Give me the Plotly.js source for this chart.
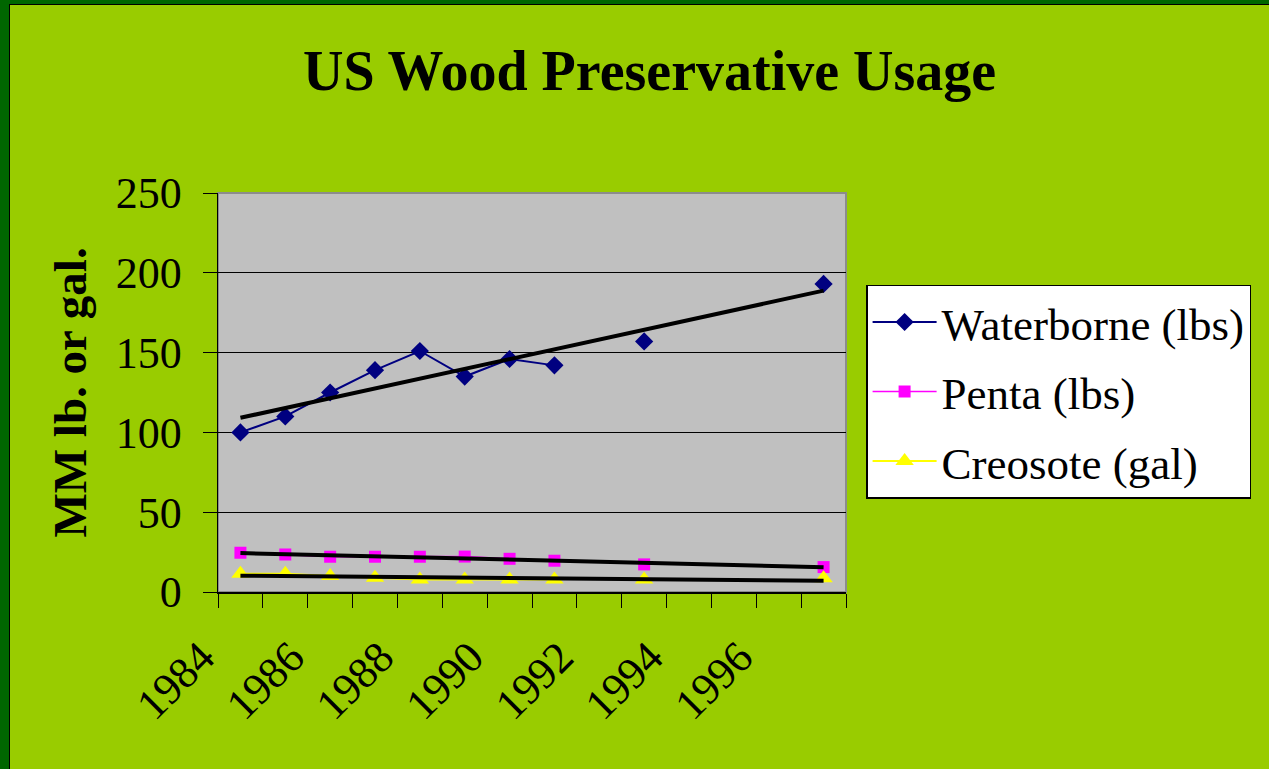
<!DOCTYPE html>
<html>
<head>
<meta charset="utf-8">
<script src="https://cdn.plot.ly/plotly-3.0.1.min.js"></script>
<style>
  html, body { margin: 0; padding: 0; width: 1269px; height: 769px; overflow: hidden; background: #006600; }
  #frame { position: absolute; left: 9px; top: 4px; width: 1260px; height: 765px;
           border-left: 1px solid #000; border-top: 1px solid #000; box-sizing: border-box; }
  #chart { position: absolute; left: 0; top: 0; width: 1259px; height: 764px; }
</style>
</head>
<body>
<div id="frame"><div id="chart"></div></div>
<script>
// ---- data ----
const years = [1984, 1985, 1986, 1987, 1988, 1989, 1990, 1991, 1992, 1993, 1994, 1995, 1996, 1997];
const waterborne = [100, 110, 125, 139, 151, 135, 146, 142, null, 157, null, null, null, 193];
const penta      = [24.6, 23.5, 22.1, 22.1, 22.1, 22.2, 20.8, 19.6, null, 17.3, null, null, null, 15.6];
const creosote   = [11.5, 11.5, 10.0, 8.9, 7.9, 7.9, 7.9, 7.9, null, 7.9, null, null, null, 8.6];
const seriesNames = ['Waterborne (lbs)', 'Penta (lbs)', 'Creosote (gal)'];
const tickYears = [1984, 1986, 1988, 1990, 1992, 1994, 1996];
const yTicks = [0, 50, 100, 150, 200, 250];

// linear trendline (least squares over category index, blanks skipped), like the spreadsheet
function trend(vals) {
  const xs = [], ys = [];
  vals.forEach((v, i) => { if (v !== null) { xs.push(i + 1); ys.push(v); } });
  const n = xs.length;
  const mx = xs.reduce((a, b) => a + b, 0) / n;
  const my = ys.reduce((a, b) => a + b, 0) / n;
  let sxy = 0, sxx = 0;
  for (let i = 0; i < n; i++) { sxy += (xs[i] - mx) * (ys[i] - my); sxx += (xs[i] - mx) ** 2; }
  const b = sxy / sxx, a = my - b * mx;
  const x0 = xs[0], x1 = xs[n - 1];
  return { x: [years[x0 - 1], years[x1 - 1]], y: [a + b * x0, a + b * x1] };
}

const FONT = 'Liberation Serif, Times New Roman, serif';

const traces = [
  { x: years, y: waterborne, name: seriesNames[0], legendgroup: 'g1', type: 'scatter', mode: 'lines+markers',
    connectgaps: false, line: { color: '#000080', width: 2 },
    marker: { symbol: 'diamond', size: 14, color: '#000080' } },
  { x: years, y: penta, name: seriesNames[1], legendgroup: 'g2', type: 'scatter', mode: 'lines+markers',
    connectgaps: false, line: { color: '#FF00FF', width: 1.5 },
    marker: { symbol: 'square', size: 12, color: '#FF00FF' } },
  { x: years, y: creosote, name: seriesNames[2], legendgroup: 'g3', type: 'scatter', mode: 'lines+markers',
    connectgaps: false, line: { color: '#FFFF00', width: 2 },
    marker: { symbol: 'triangle-up', size: 16, color: '#FFFF00' } }
];
[waterborne, penta, creosote].forEach(v => {
  const t = trend(v);
  traces.push({ x: t.x, y: t.y, mode: 'lines', type: 'scatter', showlegend: false,
    hoverinfo: 'skip', line: { color: '#000000', width: 4 } });
});

const layout = {
  width: 1259, height: 764,
  paper_bgcolor: '#99CC00',
  plot_bgcolor: '#C0C0C0',
  margin: { l: 208, r: 423, t: 188, b: 177, pad: 0 },
  font: { family: FONT, color: '#000000', size: 44 },
  title: {
    text: '<b>US Wood Preservative Usage</b>',
    font: { family: FONT, size: 56, color: '#000000' },
    x: 0.508, xanchor: 'center', xref: 'container',
    y: 0.915, yanchor: 'middle', yref: 'container'
  },
  showlegend: true,
  legend: {
    x: 1.032, xanchor: 'left', y: 0.77, yanchor: 'top',
    bgcolor: '#FFFFFF', bordercolor: '#000000', borderwidth: 1.5,
    font: { family: FONT, size: 45, color: '#000000' },
    itemwidth: 64, tracegroupgap: 8, traceorder: 'grouped'
  },
  xaxis: {
    type: 'linear', range: [1983.5, 1997.5], fixedrange: true,
    tickmode: 'array', tickvals: tickYears, ticktext: tickYears.map(String),
    ticks: '', tickangle: -45,
    tickfont: { family: FONT, size: 44, color: '#000000' },
    ticklabelstandoff: 20, ticklabelshift: -39,
    showgrid: false, zeroline: false,
    showline: true, linecolor: '#000000', linewidth: 1.5,
    minor: { tickmode: 'linear', tick0: 1983.5, dtick: 1, ticks: 'outside', ticklen: 14,
             tickcolor: '#000000', tickwidth: 1, showgrid: false }
  },
  yaxis: {
    range: [0, 250], fixedrange: true,
    tickmode: 'array', tickvals: yTicks,
    ticks: 'outside', ticklen: 14, tickcolor: '#000000', tickwidth: 1,
    tickfont: { family: FONT, size: 44, color: '#000000' },
    ticklabelstandoff: 12,
    showgrid: true, gridcolor: '#000000', gridwidth: 1,
    zeroline: false,
    showline: true, linecolor: '#000000', linewidth: 1.5,
    title: { text: '<b>MM lb. or gal.</b>', font: { family: FONT, size: 47, color: '#000000' }, standoff: 14 }
  },
  shapes: [
    { type: 'rect', xref: 'paper', yref: 'paper', x0: 0, x1: 1, y0: 0, y1: 1,
      layer: 'between', line: { color: '#8C8C8C', width: 2 }, fillcolor: 'rgba(0,0,0,0)' }
  ]
};

Plotly.newPlot('chart', traces, layout, { displayModeBar: false, staticPlot: true });
</script>
</body>
</html>
